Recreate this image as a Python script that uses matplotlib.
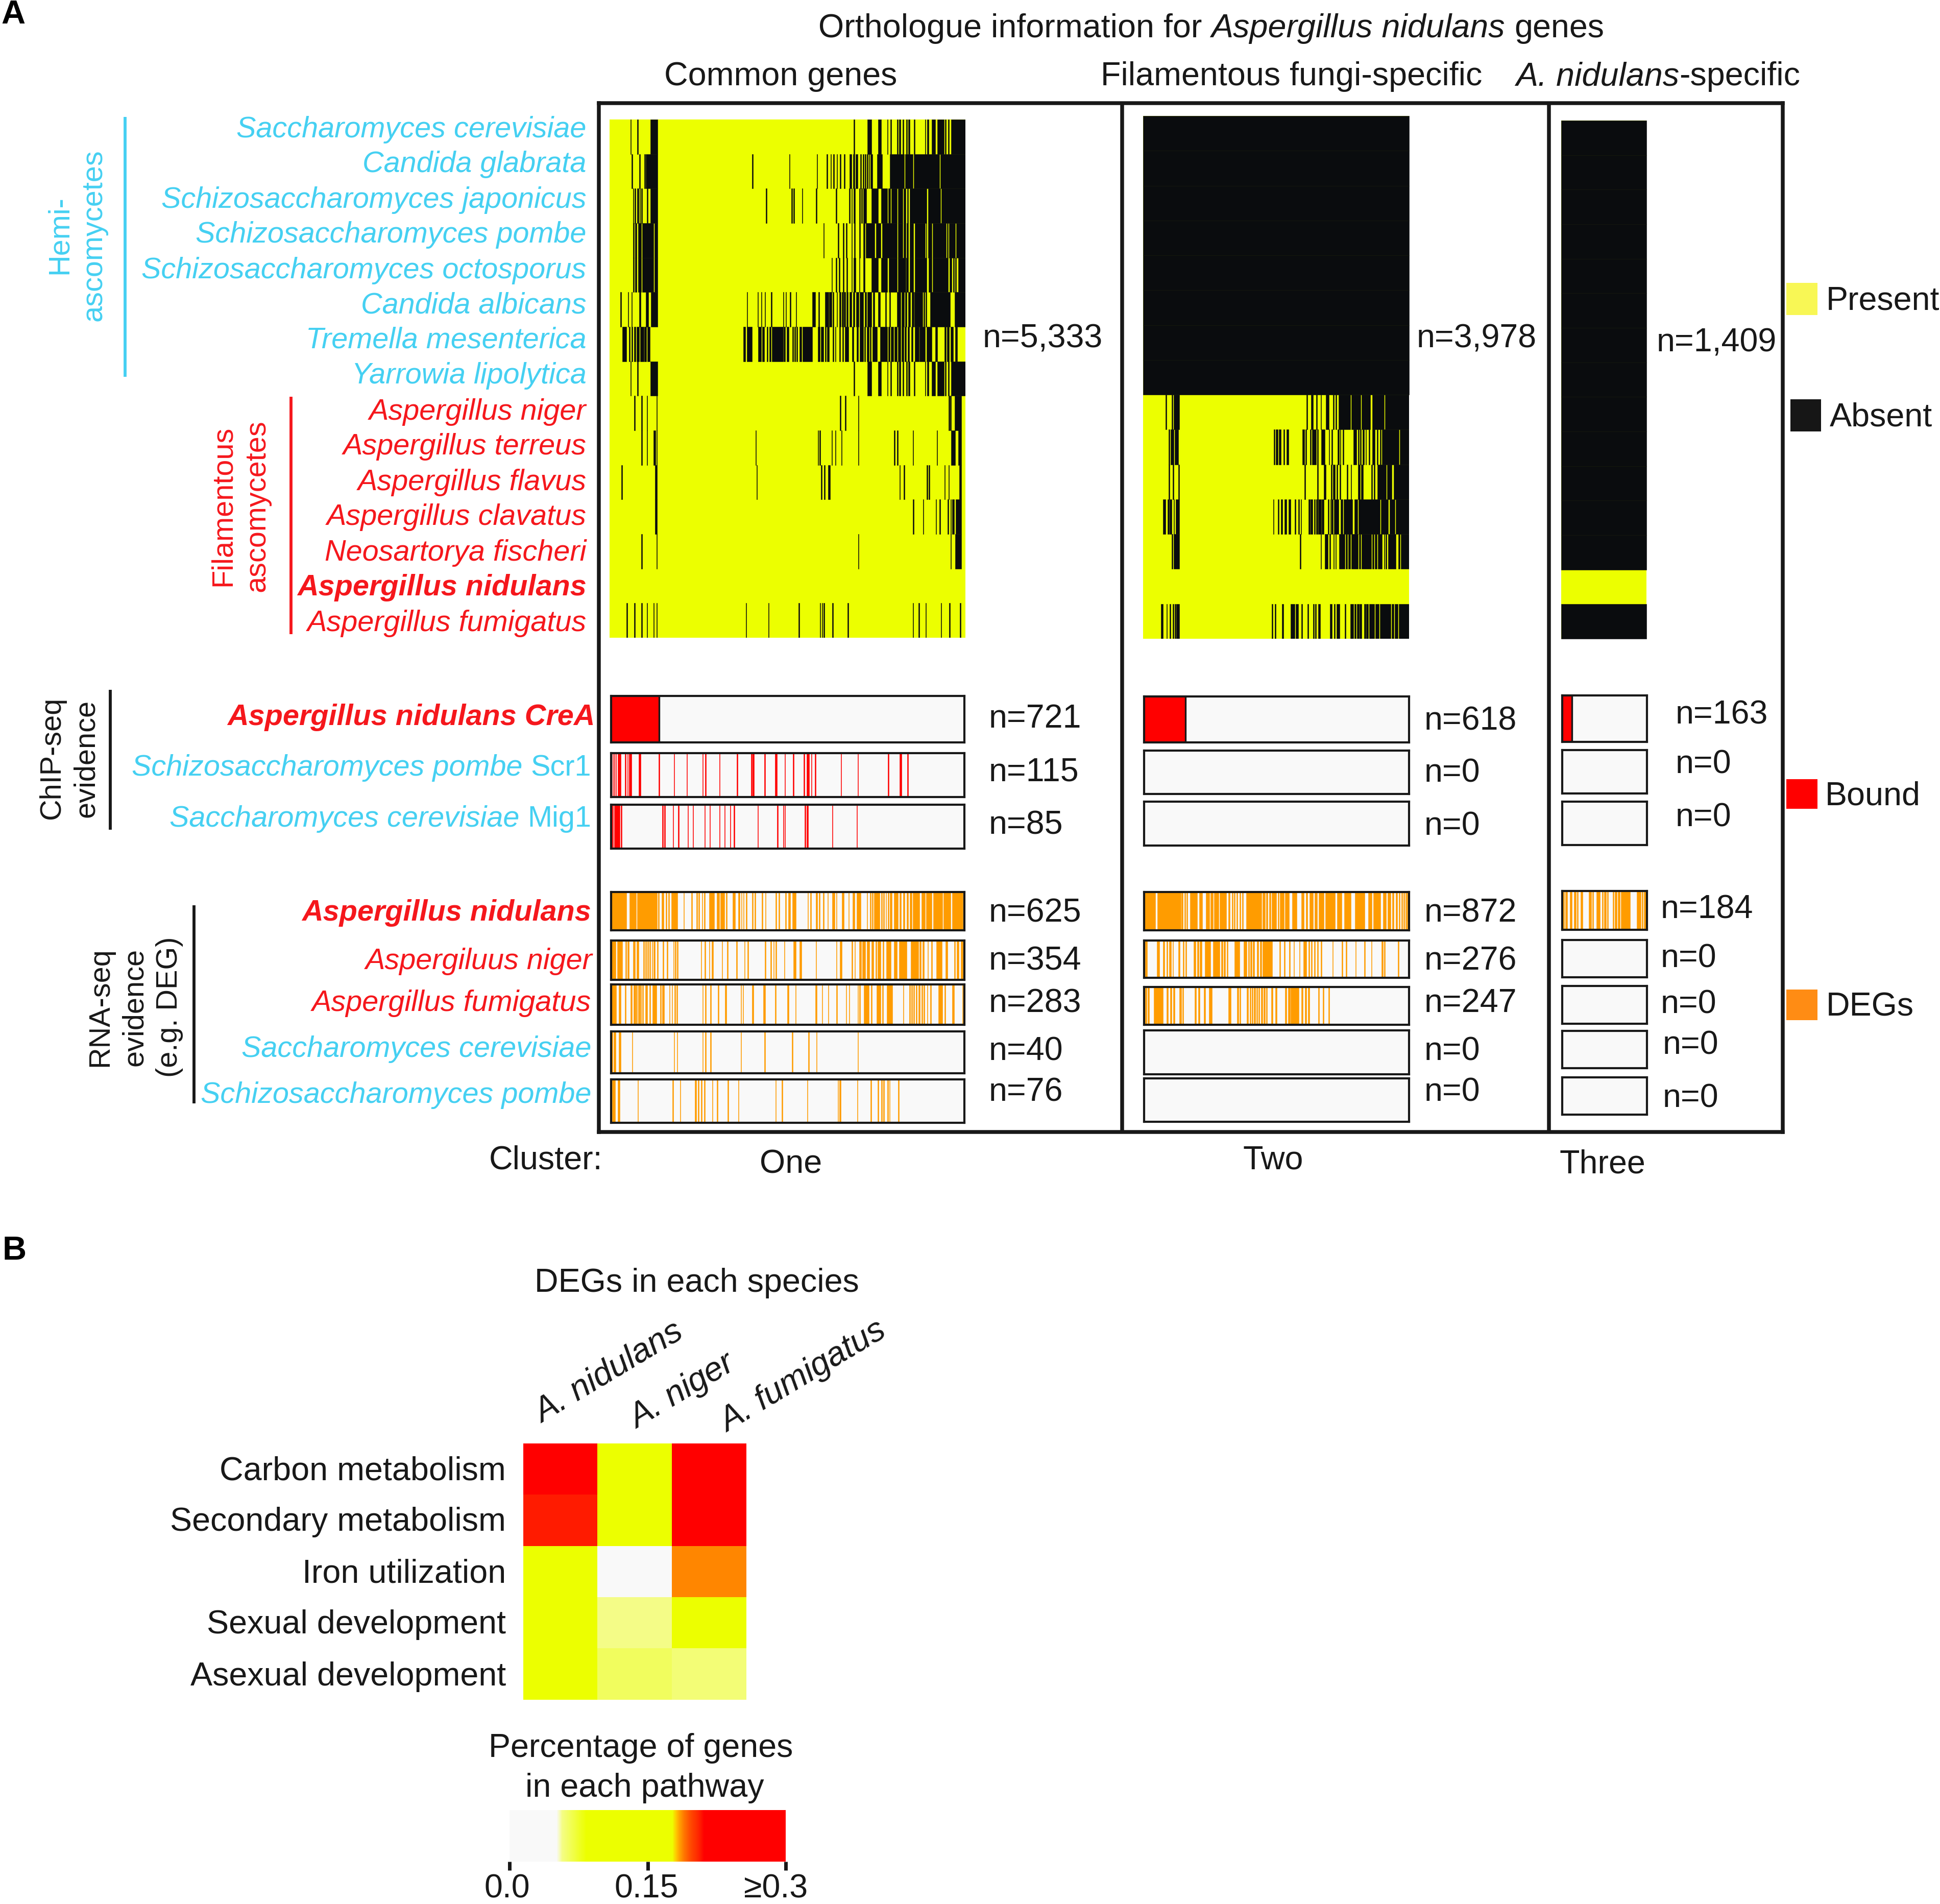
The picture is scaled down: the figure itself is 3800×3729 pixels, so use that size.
import numpy as np
import matplotlib
matplotlib.use("Agg")
import matplotlib.pyplot as plt
from matplotlib.colors import LinearSegmentedColormap, Normalize
from matplotlib.cm import ScalarMappable
from matplotlib.patches import Rectangle
from matplotlib.transforms import ScaledTranslation

plt.rcParams['font.family'] = ['Liberation Sans', 'DejaVu Sans']

W, H = 3800, 3730
S = 3800 / 1568.0  # layout below is measured on a 1568-wide view
fig = plt.figure(figsize=(W / 100, H / 100), dpi=100, facecolor='white')

YELLOW = '#ecff00'
BLACK = '#0a0c0e'
RED = '#ff0000'
ORANGE = '#ff9c00'
EMPTY = '#f9f9f9'
BLUE = '#45d0f2'
TXTRED = '#f5171c'
INK = '#181818'
BIG = 46.5
LAB = 41.5

species = ['Saccharomyces cerevisiae', 'Candida glabrata', 'Schizosaccharomyces japonicus',
           'Schizosaccharomyces pombe', 'Schizosaccharomyces octosporus', 'Candida albicans',
           'Tremella mesenterica', 'Yarrowia lipolytica', 'Aspergillus niger', 'Aspergillus terreus',
           'Aspergillus flavus', 'Aspergillus clavatus', 'Neosartorya fischeri',
           'Aspergillus nidulans', 'Aspergillus fumigatus']

# Absent stretches per species, cluster one (positions along the ordered gene axis, 86-1452)
c1_scer = [(166,169),(192,195),(242,270),(1023,1026),(1076,1092),(1117,1128),(1152,1155),(1164,1167),(1190,1193),(1198,1204),(1210,1215),(1224,1228),(1233,1238),(1255,1258),(1297,1300),(1305,1310),(1322,1336),(1345,1370),(1374,1378),(1385,1389),(1397,1452)]
c1_cgla = [(170,175),(200,204),(220,223),(226,270),(632,637),(775,778),(881,884),(918,922),(934,937),(945,948),(958,961),(970,973),(986,989),(1007,1014),(1020,1026),(1031,1038),(1048,1052),(1058,1062),(1066,1069),(1074,1077),(1081,1084),(1088,1096),(1113,1133),(1162,1216),(1220,1250),(1255,1352),(1356,1452)]
c1_sjap = [(176,179),(183,186),(192,198),(201,204),(207,212),(229,233),(242,270),(685,690),(783,787),(791,796),(824,827),(878,881),(955,958),(1006,1009),(1014,1017),(1023,1028),(1044,1048),(1052,1056),(1060,1072),(1092,1117),(1129,1152),(1157,1164),(1168,1190),(1193,1210),(1215,1222),(1228,1233),(1238,1303),(1308,1355),(1360,1452)]
c1_spom = [(177,180),(184,190),(196,208),(212,254),(258,270),(907,910),(963,966),(982,985),(994,998),(1014,1017),(1024,1029),(1044,1048),(1060,1065),(1070,1104),(1110,1126),(1133,1190),(1193,1210),(1215,1222),(1226,1233),(1238,1252),(1258,1297),(1301,1303),(1308,1322),(1326,1378),(1382,1385),(1389,1413),(1417,1452)]
c1_soct = [(177,180),(184,190),(196,208),(212,254),(258,270),(938,941),(955,958),(966,969),(982,985),(996,1000),(1014,1017),(1022,1030),(1044,1047),(1060,1066),(1092,1117),(1129,1152),(1158,1190),(1193,1222),(1225,1233),(1238,1252),(1258,1303),(1310,1322),(1326,1386),(1391,1400),(1404,1408),(1412,1416),(1424,1452)]
c1_calb = [(128,131),(156,158),(170,172),(200,205),(226,234),(245,270),(613,615),(654,657),(668,671),(681,684),(706,709),(752,755),(762,765),(778,781),(801,804),(864,876),(888,892),(913,926),(928,938),(943,947),(958,961),(967,973),(978,983),(986,991),(996,1002),(1008,1015),(1020,1026),(1032,1042),(1047,1060),(1066,1072),(1075,1092),(1098,1104),(1117,1124),(1145,1148),(1160,1164),(1190,1204),(1208,1216),(1220,1226),(1232,1240),(1247,1254),(1256,1288),(1292,1296),(1300,1303),(1316,1394),(1410,1452)]
c1_tmes = [(135,151),(160,164),(170,174),(180,186),(189,199),(203,217),(220,228),(232,241),(600,608),(614,632),(657,668),(672,680),(690,694),(700,706),(710,752),(755,760),(766,774),(787,791),(795,800),(804,808),(815,823),(827,864),(885,894),(897,908),(913,916),(920,928),(942,946),(952,954),(968,972),(980,983),(990,1004),(1016,1022),(1034,1040),(1047,1060),(1064,1068),(1074,1082),(1086,1090),(1096,1113),(1125,1152),(1156,1162),(1166,1176),(1180,1190),(1194,1204),(1208,1214),(1218,1224),(1230,1236),(1244,1250),(1258,1273),(1276,1298),(1304,1323),(1336,1345),(1372,1378),(1382,1390),(1395,1405),(1412,1420)]
c1_ylip = [(166,169),(192,195),(242,270),(1023,1026),(1076,1092),(1117,1128),(1152,1155),(1164,1167),(1190,1193),(1198,1204),(1210,1215),(1224,1228),(1233,1238),(1255,1258),(1297,1300),(1305,1310),(1322,1336),(1345,1370),(1374,1378),(1385,1389),(1397,1452)]
c1_anig = [(181,184),(208,211),(229,232),(266,269),(970,973),(990,993),(1040,1043),(1388,1391),(1394,1397),(1410,1436)]
c1_ater = [(208,211),(229,232),(254,262),(266,269),(646,649),(885,888),(891,895),(938,941),(952,955),(975,978),(1040,1043),(1178,1181),(1190,1193),(1250,1253),(1342,1345),(1398,1413),(1424,1436)]
c1_afla = [(132,135),(261,269),(650,653),(897,901),(909,913),(925,933),(1199,1202),(1215,1219),(1303,1306),(1311,1314),(1371,1374),(1387,1390),(1428,1436)]
c1_acla = [(261,269),(1251,1254),(1289,1292),(1338,1341),(1353,1356),(1384,1387),(1395,1398),(1402,1409),(1414,1436)]
c1_nfis = [(208,211),(266,269),(1040,1043),(1395,1398),(1413,1436)]
c1_anid = []
c1_afum = [(151,154),(181,184),(208,211),(229,232),(254,257),(266,269),(609,612),(695,698),(812,815),(893,896),(901,904),(908,912),(941,944),(999,1004),(1250,1253),(1272,1275),(1299,1302),(1357,1360),(1390,1393),(1431,1434)]

# Cluster two (gene axis 102-1463): first eight species absent everywhere
c2_all = [(102,1463)]
c2_anig = [(217,221),(249,253),(259,287),(939,943),(961,973),(988,993),(1010,1013),(1037,1053),(1074,1080),(1086,1092),(1103,1163),(1167,1216),(1220,1265),(1275,1335),(1341,1463)]
c2_ater = [(233,238),(243,259),(263,282),(771,776),(781,792),(797,808),(821,826),(836,847),(917,927),(933,938),(956,961),(967,987),(994,997),(1014,1032),(1052,1056),(1067,1072),(1098,1104),(1110,1114),(1124,1129),(1179,1195),(1202,1206),(1212,1217),(1226,1232),(1240,1244),(1256,1262),(1274,1289),(1298,1304),(1314,1319),(1325,1412),(1416,1463)]
c2_afla = [(233,238),(253,259),(282,287),(928,933),(994,998),(1027,1037),(1064,1069),(1074,1085),(1091,1098),(1108,1112),(1145,1150),(1164,1168),(1201,1212),(1217,1227),(1270,1275),(1283,1287),(1300,1345),(1350,1373),(1385,1463)]
c2_acla = [(204,217),(227,234),(238,248),(259,262),(269,287),(767,771),(792,798),(808,814),(826,836),(847,857),(878,883),(896,901),(908,912),(949,955),(960,968),(977,982),(987,996),(999,1013),(1016,1027),(1048,1053),(1060,1064),(1067,1075),(1079,1103),(1114,1124),(1129,1173),(1184,1198),(1205,1315),(1320,1356),(1364,1390),(1396,1463)]
c2_nfis = [(249,254),(259,287),(903,908),(1010,1014),(1032,1048),(1056,1060),(1076,1080),(1086,1090),(1106,1112),(1113,1134),(1138,1146),(1152,1162),(1168,1202),(1206,1216),(1221,1270),(1275,1283),(1288,1298),(1304,1325),(1335,1338),(1342,1348),(1356,1396),(1407,1416),(1422,1463)]
c2_anid = []
c2_afum = [(193,203),(222,226),(238,243),(253,259),(265,269),(273,287),(760,766),(776,780),(813,821),(857,877),(883,896),(911,917),(944,949),(972,978),(983,987),(999,1009),(1058,1069),(1080,1085),(1092,1108),(1134,1139),(1163,1179),(1184,1192),(1196,1206),(1209,1220),(1233,1240),(1244,1254),(1258,1285),(1290,1309),(1314,1368),(1374,1385),(1390,1405),(1410,1463)]

# Cluster three: everything absent except A. nidulans
c3_all = [(0,1)]
c3_anid = []

# Bound fractions (count over cluster size)
genes_total = [5333, 3978, 1409]
crea_bound = [721, 618, 163]

# Bound positions, cluster one (axis 88-1450)
scr1_c1 = [(93,96),(99,102),(105,108),(114,125),(142,146),(150,153),(157,167),(194,202),(272,275),(330,333),(379,382),(440,443),(451,454),(505,508),(573,576),(627,631),(634,639),(679,682),(720,727),(757,760),(789,792),(830,833),(842,851),(859,862),(874,877),(973,976),(1038,1041),(1155,1158),(1201,1207),(1230,1233)]
mig1_c1 = [(92,96),(100,122),(126,129),(285,288),(293,296),(326,329),(346,349),(383,386),(402,405),(448,451),(467,470),(505,508),(524,527),(546,549),(561,564),(652,655),(728,731),(751,754),(757,760),(834,837),(841,847),(940,943),(1034,1037)]

# DEG positions, cluster one (axis 88-1450)
deg_anid_c1 = [(88,147),(159,184),(188,265),(270,273),(282,290),(298,302),(308,312),(320,326),(327,343),(368,370),(397,400),(417,420),(425,428),(438,441),(447,450),(465,486),(495,505),(510,525),(530,535),(556,567),(578,584),(590,592),(598,600),(607,612),(632,636),(642,645),(669,673),(682,685),(722,726),(733,737),(760,764),(770,778),(786,800),(845,848),(855,859),(878,884),(890,893),(905,909),(922,925),(941,950),(955,957),(978,986),(1003,1006),(1018,1026),(1035,1051),(1074,1077),(1086,1089),(1094,1098),(1102,1124),(1130,1133),(1138,1141),(1146,1149),(1154,1158),(1162,1170),(1178,1195),(1200,1205),(1214,1220),(1228,1234),(1240,1248),(1252,1276),(1285,1299),(1303,1325),(1330,1365),(1369,1396),(1402,1445)]
deg_anig_c1 = [(88,106),(111,131),(143,147),(151,157),(172,181),(187,195),(212,216),(220,224),(228,232),(236,240),(245,248),(252,257),(265,270),(287,290),(303,306),(328,331),(335,338),(342,346),(434,437),(449,452),(465,468),(476,481),(515,518),(535,539),(571,574),(601,604),(614,618),(681,684),(703,706),(713,716),(722,725),(755,758),(791,800),(815,823),(877,880),(956,958),(970,978),(1016,1019),(1026,1029),(1044,1052),(1056,1068),(1074,1084),(1092,1100),(1108,1112),(1116,1128),(1136,1140),(1148,1166),(1178,1190),(1198,1227),(1243,1272),(1276,1282),(1288,1294),(1308,1311),(1322,1326),(1341,1364),(1378,1386),(1411,1414),(1420,1428),(1437,1444)]
deg_afum_c1 = [(88,107),(118,125),(141,145),(162,168),(174,182),(185,189),(192,198),(200,204),(208,212),(220,227),(236,240),(247,263),(276,280),(285,292),(312,315),(322,325),(333,336),(340,344),(440,443),(451,454),(470,473),(500,503),(527,533),(587,590),(595,598),(632,638),(674,682),(719,723),(768,772),(798,801),(875,882),(900,903),(924,927),(956,959),(993,996),(1005,1008),(1038,1041),(1045,1048),(1062,1082),(1090,1094),(1111,1127),(1133,1138),(1150,1172),(1213,1216),(1238,1241),(1246,1249),(1254,1258),(1264,1267),(1272,1278),(1285,1288),(1293,1296),(1306,1309),(1318,1322),(1350,1366),(1374,1378),(1402,1411),(1442,1445)]
deg_scer_c1 = [(90,93),(97,106),(118,125),(168,171),(330,333),(341,344),(440,443),(451,454),(470,473),(587,590),(679,682),(785,788),(848,851),(879,882),(1038,1041)]
deg_spom_c1 = [(92,103),(114,121),(190,193),(325,328),(353,356),(410,416),(423,426),(435,438),(447,450),(477,480),(496,499),(537,540),(578,581),(721,724),(746,749),(843,846),(961,964),(968,973),(1036,1039),(1088,1091),(1116,1119),(1130,1133),(1138,1141),(1153,1156),(1160,1163),(1195,1198)]

# DEG positions, cluster two (axis 60-797)
deg_anid_c2 = [(60,91),(97,162),(164,168),(172,175),(178,181),(188,208),(214,222),(232,242),(245,252),(255,267),(270,289),(295,298),(304,307),(310,313),(317,320),(325,329),(332,335),(344,386),(390,396),(400,404),(408,412),(415,428),(432,435),(438,449),(452,463),(472,485),(497,505),(510,515),(520,530),(535,542),(546,560),(564,591),(597,610),(617,635),(647,674),(683,694),(698,717),(724,733),(737,746),(750,754),(760,764),(768,772),(775,778),(781,784),(787,790),(791,794)]
deg_anig_c2 = [(63,68),(96,103),(113,117),(122,125),(129,135),(139,141),(155,160),(168,171),(175,178),(198,204),(208,212),(215,221),(229,244),(252,270),(275,278),(282,286),(290,293),(311,326),(337,345),(350,353),(356,359),(362,367),(374,378),(382,386),(390,416),(437,439),(449,452),(463,466),(476,478),(491,493),(503,512),(517,520),(524,527),(533,536),(541,544),(551,554),(584,586),(610,613),(621,624),(648,650),(672,675),(692,694),(721,724),(727,730),(766,768)]
deg_afum_c2 = [(63,67),(70,74),(87,113),(123,127),(133,137),(141,145),(158,163),(167,170),(200,205),(210,215),(226,230),(241,249),(294,301),(318,322),(326,329),(345,350),(354,357),(360,363),(366,369),(372,375),(378,381),(385,389),(392,396),(399,402),(413,418),(425,429),(452,456),(460,466),(468,490),(497,502),(507,511),(516,520),(544,547),(557,560),(572,575)]

# DEG positions, cluster three (axis 60-556)
deg_anid_c3 = [(66,71),(79,90),(105,117),(129,141),(147,153),(167,180),(216,231),(237,243),(261,280),(294,300),(306,318),(323,330),(357,363),(369,381),(387,399),(405,456),(495,519),(525,531),(537,549)]

pathways = ['Carbon metabolism', 'Secondary metabolism', 'Iron utilization', 'Sexual development', 'Asexual development']
deg_species = ['A. nidulans', 'A. niger', 'A. fumigatus']
pct_nid = [0.30, 0.207, 0.13, 0.13, 0.13]
pct_nig = [0.13, 0.13, 0.0, 0.057, 0.0645]
pct_fum = [0.30, 0.30, 0.1875, 0.13, 0.060]

cb_ticks = [0.0, 0.15, 0.3]
cb_labels = ['0.0', '0.15', '\u22650.3']


def axpx(x0, y0, x1, y1, **kw):
    """Axes from pixel box (top-left origin)."""
    return fig.add_axes([x0 / W, 1 - y1 / H, (x1 - x0) / W, (y1 - y0) / H], **kw)


overlay = axpx(0, 0, W, H, zorder=5)
overlay.set_xlim(0, W)
overlay.set_ylim(H, 0)
overlay.axis('off')
overlay.patch.set_alpha(0)
renderer = fig.canvas.get_renderer()
DY = 1.9


def T(x, y, s, ha='left', size=BIG, color=INK, **kw):
    return overlay.text(x * S, (y + DY) * S, s, ha=ha, va='center', fontsize=size, color=color, **kw)


def chain(x, y, parts, anchor='left', size=BIG, color=INK, gap_em=0.278):
    """Lay out mixed-style text runs one after another on a baseline."""
    gap = gap_em * size * 100 / 72
    items = [overlay.text(0, (y + DY - 2.6) * S, s, ha='left', va='center_baseline', fontsize=size, color=color, **st)
             for s, st in parts]
    widths = [t.get_window_extent(renderer).width for t in items]
    total = sum(widths) + gap * (len(items) - 1)
    px = x * S - {'left': 0, 'center': total / 2, 'right': total}[anchor]
    for t, w in zip(items, widths):
        t.set_x(px)
        px += w + gap


def L(x0, y0, x1, y1, color=INK, lw=4.2):
    overlay.plot([x0 * S, x1 * S], [y0 * S, y1 * S], color=color, lw=lw, solid_capstyle='butt')


def spans(r):
    return [(a, b - a) for a, b in r]


# ---- presence/absence heatmaps
def heat(box, xlim, rows):
    ax = axpx(*box)
    ax.set_facecolor(YELLOW)
    ax.set_xlim(*xlim)
    ax.set_ylim(len(rows), 0)
    for i, r in enumerate(rows):
        if r:
            ax.broken_barh(spans(r), (i, 1), facecolor=BLACK, edgecolor=BLACK, linewidth=0.4)
    ax.set_xticks([]); ax.set_yticks([])
    for s in ax.spines.values():
        s.set_visible(False)
    return ax


heat((1194, 235, 1891, 1250), (86, 1452),
     [c1_scer, c1_cgla, c1_sjap, c1_spom, c1_soct, c1_calb, c1_tmes, c1_ylip,
      c1_anig, c1_ater, c1_afla, c1_acla, c1_nfis, c1_anid, c1_afum])
heat((2239, 228, 2760, 1252), (102, 1463),
     [c2_all] * 8 + [c2_anig, c2_ater, c2_afla, c2_acla, c2_nfis, c2_anid, c2_afum])
heat((3058, 237, 3225, 1252), (0, 1),
     [c3_all] * 13 + [c3_anid, c3_all])


# ---- evidence strips
def strip(box, xlim, r, color, edge=0.4):
    ax = axpx(*box)
    ax.set_facecolor(EMPTY)
    ax.set_xlim(*xlim)
    ax.set_ylim(0, 1)
    if r:
        ax.broken_barh(spans(r), (0, 1), facecolor=color, edgecolor=color, linewidth=edge)
    ax.set_xticks([]); ax.set_yticks([])
    for s in ax.spines.values():
        s.set_linewidth(3.0)
        s.set_edgecolor(INK)
    return ax


c1x = (1197, 1889); c2x = (2241, 2760); c3x = (3060, 3226)
c1y = [(1364, 1455), (1476, 1562), (1577, 1663), (1748, 1823), (1843, 1920), (1929, 2008), (2021, 2103), (2115, 2200)]
c2y = [(1365, 1455), (1471, 1556), (1571, 1657), (1748, 1823), (1843, 1916), (1934, 2008), (2019, 2105), (2113, 2198)]
c3y = [(1363, 1454), (1470, 1555), (1571, 1656), (1746, 1822), (1842, 1915), (1932, 2006), (2020, 2093), (2111, 2184)]

c1s = [[(0, crea_bound[0] / genes_total[0])], scr1_c1, mig1_c1, deg_anid_c1, deg_anig_c1, deg_afum_c1, deg_scer_c1, deg_spom_c1]
c2s = [[(0, crea_bound[1] / genes_total[1])], [], [], deg_anid_c2, deg_anig_c2, deg_afum_c2, [], []]
c3s = [[(0, crea_bound[2] / genes_total[2])], [], [], deg_anid_c3, [], [], [], []]
cols = [RED, RED, RED, ORANGE, ORANGE, ORANGE, ORANGE, ORANGE]

for xs, ys_, ss, lim in [(c1x, c1y, c1s, (88, 1450)), (c2x, c2y, c2s, (60, 797)), (c3x, c3y, c3s, (60, 556))]:
    for k, (yy, sp, col) in enumerate(zip(ys_, ss, cols)):
        if k == 0:
            a = strip((xs[0], yy[0], xs[1], yy[1]), (0, 1), sp, col, edge=0)
            a.axvline(sp[0][1], color=INK, lw=2.4)
        else:
            strip((xs[0], yy[0], xs[1], yy[1]), lim, sp, col)

# ---- outer frame
frame = axpx(1173, 203, 3492, 2218, zorder=4)
frame.patch.set_alpha(0)
frame.set_xlim(1173, 3492)
frame.set_ylim(0, 1)
frame.set_xticks([]); frame.set_yticks([])
for s in frame.spines.values():
    s.set_linewidth(5.4)
    s.set_edgecolor(INK)
for xv in (2198, 3034):
    frame.axvline(xv, color=INK, lw=5.4)

# ---- titles
IT = {'style': 'italic'}
chain(979, 21, [('Orthologue information for', {}), ('Aspergillus nidulans', IT), ('genes', {})], anchor='center')
T(631, 60, 'Common genes', ha='center')
T(1044, 60, 'Filamentous fungi-specific', ha='center')
chain(1225, 60, [('A. nidulans', IT), ('-specific', {})], anchor='left', gap_em=0.0)

# ---- species labels
ys = [103, 131, 160, 188, 217, 245, 273, 302, 331, 359, 388, 416, 445, 473, 502]
for i, (sp, y) in enumerate(zip(species, ys)):
    col = BLUE if i < 8 else TXTRED
    w = 'bold' if sp == 'Aspergillus nidulans' else 'normal'
    T(474, y, sp, ha='right', color=col, style='italic', weight=w, size=LAB)

ML = dict(ha='center', rotation=90, multialignment='center', linespacing=1.32, size=LAB)
T(62, 188, 'Hemi-\nascomycetes', color=BLUE, **ML)
L(101, 95, 101, 305, BLUE)
T(194, 407, 'Filamentous\nascomycetes', color=TXTRED, **ML)
L(235, 321, 235, 513, TXTRED)
T(56, 611, 'ChIP-seq\nevidence', **ML)
L(89, 558, 89, 671)
T(109, 812, 'RNA-seq\nevidence\n(e.g. DEG)', **ML)
L(157, 732, 157, 892)

# ---- evidence labels
T(481, 578, 'Aspergillus nidulans CreA', ha='right', color=TXTRED, style='italic', weight='bold', size=LAB)
chain(478, 619, [('Schizosaccharomyces pombe', IT), ('Scr1', {})], anchor='right', size=LAB, color=BLUE)
chain(478, 660, [('Saccharomyces cerevisiae', IT), ('Mig1', {})], anchor='right', size=LAB, color=BLUE)
T(478, 736, 'Aspergillus nidulans', ha='right', color=TXTRED, style='italic', weight='bold', size=LAB)
T(479, 775, 'Aspergiluus niger', ha='right', color=TXTRED, style='italic', size=LAB)
T(478, 809, 'Aspergillus fumigatus', ha='right', color=TXTRED, style='italic', size=LAB)
T(478, 846, 'Saccharomyces cerevisiae', ha='right', color=BLUE, style='italic', size=LAB)
T(478, 883, 'Schizosaccharomyces pombe', ha='right', color=BLUE, style='italic', size=LAB)

# ---- n labels
for x, y, s in [(794, 272, 'n=5,333'), (1145, 272, 'n=3,978'), (1339, 275, 'n=1,409'),
                (799, 579, 'n=721'), (799, 622, 'n=115'), (799, 665, 'n=85'), (799, 736, 'n=625'),
                (799, 775, 'n=354'), (799, 809, 'n=283'), (799, 848, 'n=40'), (799, 881, 'n=76'),
                (1151, 581, 'n=618'), (1151, 623, 'n=0'), (1151, 666, 'n=0'), (1151, 736, 'n=872'),
                (1151, 775, 'n=276'), (1151, 809, 'n=247'), (1151, 848, 'n=0'), (1151, 881, 'n=0'),
                (1354, 576, 'n=163'), (1354, 616, 'n=0'), (1354, 659, 'n=0'), (1342, 733, 'n=184'),
                (1342, 773, 'n=0'), (1342, 810, 'n=0'), (1344, 843, 'n=0'), (1344, 886, 'n=0')]:
    T(x, y, s)

# ---- legend
for x0, y0, x1, y1, c, lab, tx in [(1444, 229, 1469, 255, '#f8f755', 'Present', 1476),
                                   (1447, 323, 1472, 349, '#161616', 'Absent', 1479),
                                   (1444, 630, 1469, 654, RED, 'Bound', 1475),
                                   (1444, 800, 1469, 825, '#ff8c14', 'DEGs', 1476)]:
    overlay.add_patch(Rectangle((x0 * S, y0 * S), (x1 - x0) * S, (y1 - y0) * S, facecolor=c, edgecolor='none'))
    T(tx, (y0 + y1) / 2 - 0.5, lab)

T(395, 936, 'Cluster:')
T(639, 939, 'One', ha='center')
T(1029, 936, 'Two', ha='center')
T(1295, 939, 'Three', ha='center')

T(1, 10, 'A', weight='bold', size=47, color='black')
T(2, 1009, 'B', weight='bold', size=47, color='black')

# ---- panel B
cmap = LinearSegmentedColormap.from_list('pct', [(0.0, EMPTY), (0.17, EMPTY), (0.19, '#f4fd85'), (0.277, YELLOW),
                                                 (0.59, YELLOW), (0.604, '#ffc400'), (0.617, '#ff9c00'),
                                                 (0.635, '#ff7000'), (0.657, '#ff4800'), (0.683, '#ff2800'),
                                                 (0.705, RED), (1.0, RED)], N=1024)
norm = Normalize(0, 0.3)
mat = np.array([pct_nid, pct_nig, pct_fum]).T
axb = axpx(423 * S, 1167 * S, 603 * S, 1374 * S)
axb.imshow(mat, cmap=cmap, norm=norm, aspect='auto', interpolation='nearest')
axb.axis('off')

T(563, 1035, 'DEGs in each species', ha='center')
for x, y, s in [(441, 1155, deg_species[0]), (518, 1160, deg_species[1]), (591, 1163, deg_species[2])]:
    overlay.text(x * S, y * S, s, ha='left', va='bottom', rotation=31, rotation_mode='anchor',
                 fontsize=47.5, color=INK, style='italic')
for p, y in zip(pathways, [1187, 1228, 1270, 1311, 1353]):
    T(409, y, p, ha='right')

T(518, 1411, 'Percentage of genes', ha='center')
T(521, 1443, 'in each pathway', ha='center')
cax = axpx(412 * S, 1463 * S, 635 * S, 1505 * S)
cb = fig.colorbar(ScalarMappable(norm=norm, cmap=cmap), cax=cax, orientation='horizontal')
cb.set_ticks(cb_ticks)
cb.set_ticklabels(cb_labels)
cb.outline.set_visible(False)
cax.tick_params(axis='x', length=12, width=5, pad=4, labelsize=BIG, labelcolor=INK, color=INK)
for lbl, dx in zip(cax.get_xticklabels(), (-2, -1, -8)):
    lbl.set_transform(lbl.get_transform() + ScaledTranslation(dx * S / 100, 0, fig.dpi_scale_trans))

fig.savefig('out.png', dpi=100, facecolor='white')
